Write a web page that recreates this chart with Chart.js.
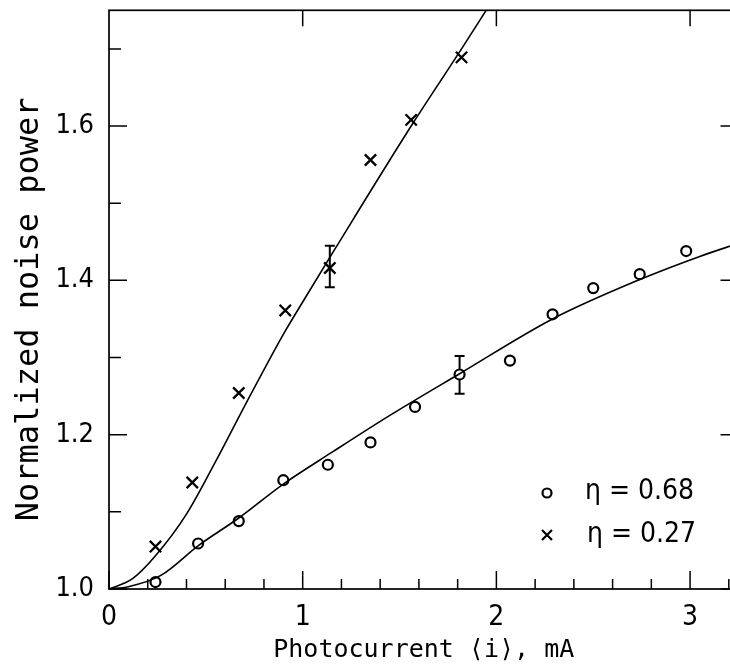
<!DOCTYPE html>
<html>
<head>
<meta charset="utf-8">
<script src="https://cdn.jsdelivr.net/npm/chart.js@4"></script>
<style>
html, body { margin: 0; padding: 0; background: #fff; overflow: hidden; }
#wrap { width: 750px; height: 670px; }
</style>
</head>
<body>
<div id="wrap"><canvas id="noiseChart" width="750" height="670"></canvas></div>
<script>
// measured points, eta = 0.68 (open circles)
const circX = [0.24, 0.46, 0.67, 0.90, 1.13, 1.35, 1.58, 1.81, 2.07, 2.29, 2.50, 2.74, 2.98];
const circY = [1.009, 1.059, 1.088, 1.141, 1.161, 1.190, 1.236, 1.278, 1.296, 1.356, 1.390, 1.408, 1.438];

// measured points, eta = 0.27 (crosses)
const crossX = [0.24, 0.43, 0.67, 0.91, 1.14, 1.35, 1.56, 1.82];
const crossY = [1.055, 1.138, 1.254, 1.361, 1.416, 1.556, 1.608, 1.689];

// theory curves
const fitLowX = [0, 0.10, 0.27, 0.46, 0.67, 0.90, 1.15, 1.45, 1.81, 2.29, 2.74, 3.05, 3.25];
const fitLowY = [1.000, 1.003, 1.018, 1.056, 1.092, 1.136, 1.177, 1.225, 1.279, 1.350, 1.401, 1.431, 1.448];
const fitHighX = [0, 0.12, 0.24, 0.40, 0.55, 0.70, 0.90, 1.00, 1.17, 1.56, 1.82, 1.96];
const fitHighY = [1.000, 1.013, 1.043, 1.097, 1.165, 1.237, 1.330, 1.372, 1.442, 1.600, 1.700, 1.755];

// error bars
const errX = [1.14, 1.81];
const errLow = [1.391, 1.253];
const errHigh = [1.445, 1.302];

// ticks
const xMajor = [0, 1, 2, 3];
const xMinor = [0.2, 0.4, 0.6, 0.8, 1.2, 1.4, 1.6, 1.8, 2.2, 2.4, 2.6, 2.8, 3.2];
const yMajor = [1.0, 1.2, 1.4, 1.6];
const yMinor = [1.1, 1.3, 1.5, 1.7];
const yLabels = ['1.0', '1.2', '1.4', '1.6'];

const legendText = ['\u03b7 = 0.68', '\u03b7 = 0.27'];

const narrow = "'Liberation Sans Narrow', 'DejaVu Sans Condensed', 'Liberation Sans', sans-serif";
const mono = "'DejaVu Sans Mono', 'Liberation Mono', monospace";

function pts(xs, ys) {
    return xs.map(function(v, i) { return {x: v, y: ys[i]}; });
}

// keep the plot box fixed: no extra room for edge labels
function noPad(s) {
    s.paddingTop = 0; s.paddingBottom = 0;
    s.paddingLeft = 0; s.paddingRight = 0;
}

const errorBars = {
    id: 'errorBars',
    beforeDatasetsDraw(chart) {
        const {ctx, scales: {x, y}} = chart;
        ctx.save();
        ctx.strokeStyle = '#000';
        ctx.lineWidth = 2;
        errX.forEach(function(v, i) {
            const px = x.getPixelForValue(v);
            const lo = y.getPixelForValue(errLow[i]);
            const hi = y.getPixelForValue(errHigh[i]);
            ctx.beginPath();
            ctx.moveTo(px, lo); ctx.lineTo(px, hi);
            ctx.moveTo(px - 5, lo); ctx.lineTo(px + 5, lo);
            ctx.moveTo(px - 5, hi); ctx.lineTo(px + 5, hi);
            ctx.stroke();
        });
        ctx.restore();
    }
};

// box with inward ticks, plus the legend inside the plot
const frame = {
    id: 'frame',
    afterDraw(chart) {
        const {ctx, chartArea: a, scales: {x, y}} = chart;
        ctx.save();
        ctx.strokeStyle = '#000';
        ctx.lineWidth = 1.7;
        ctx.strokeRect(a.left, a.top, a.right - a.left, a.bottom - a.top);

        ctx.lineWidth = 1.5;
        ctx.beginPath();
        xMajor.forEach(function(v) {
            const px = x.getPixelForValue(v);
            ctx.moveTo(px, a.bottom); ctx.lineTo(px, a.bottom - 18);
            if (v > 0) { ctx.moveTo(px, a.top); ctx.lineTo(px, a.top + 16); }
        });
        xMinor.forEach(function(v) {
            const px = x.getPixelForValue(v);
            ctx.moveTo(px, a.bottom); ctx.lineTo(px, a.bottom - 10);
        });
        yMajor.forEach(function(v) {
            const py = y.getPixelForValue(v);
            ctx.moveTo(a.left, py); ctx.lineTo(a.left + 18, py);
            ctx.moveTo(a.right, py); ctx.lineTo(a.right - 18, py);
        });
        yMinor.forEach(function(v) {
            const py = y.getPixelForValue(v);
            ctx.moveTo(a.left, py); ctx.lineTo(a.left + 12, py);
        });
        ctx.stroke();

        // legend
        ctx.lineWidth = 2.2;
        ctx.beginPath();
        ctx.arc(547, 493, 4.5, 0, Math.PI * 2);
        ctx.stroke();
        ctx.beginPath();
        ctx.moveTo(542, 530); ctx.lineTo(552, 540);
        ctx.moveTo(552, 530); ctx.lineTo(542, 540);
        ctx.stroke();
        ctx.fillStyle = '#000';
        ctx.font = '28px ' + narrow;
        ctx.textAlign = 'left';
        ctx.textBaseline = 'middle';
        ctx.fillText(legendText[0], 585, 492);
        ctx.fillText(legendText[1], 587, 535);
        ctx.restore();
    }
};

const ctx = document.getElementById('noiseChart').getContext('2d');
window.noiseChart = new Chart(ctx, {
    type: 'scatter',
    data: {
        datasets: [
            {
                label: 'fit 0.68',
                data: pts(fitLowX, fitLowY),
                showLine: true,
                borderColor: '#000',
                borderWidth: 1.6,
                pointRadius: 0,
                cubicInterpolationMode: 'monotone'
            },
            {
                label: 'fit 0.27',
                data: pts(fitHighX, fitHighY),
                showLine: true,
                borderColor: '#000',
                borderWidth: 1.6,
                pointRadius: 0,
                cubicInterpolationMode: 'monotone'
            },
            {
                label: legendText[0],
                data: pts(circX, circY),
                pointStyle: 'circle',
                pointRadius: 5,
                borderWidth: 2.2,
                borderColor: '#000',
                backgroundColor: '#fff'
            },
            {
                label: legendText[1],
                data: pts(crossX, crossY),
                pointStyle: 'crossRot',
                pointRadius: 8,
                borderWidth: 2.3,
                borderColor: '#000'
            }
        ]
    },
    options: {
        responsive: false,
        animation: false,
        layout: { padding: { left: 0, top: 9, right: 11.5, bottom: 0 } },
        scales: {
            x: {
                type: 'linear',
                min: 0,
                max: 3.25,
                afterFit: function(s) { s.height = 81; noPad(s); },
                afterBuildTicks: function(s) { s.ticks = xMajor.map(function(v) { return {value: v}; }); },
                grid: { display: false, drawTicks: false, tickLength: 0 },
                border: { display: false },
                ticks: {
                    color: '#000',
                    padding: 12,
                    maxRotation: 0,
                    font: { family: narrow, size: 28 },
                    callback: function(v) { return String(v); }
                },
                title: {
                    display: true,
                    text: 'Photocurrent \u27e8i\u27e9, mA',
                    color: '#000',
                    font: { family: mono, size: 25 },
                    padding: { top: 0, bottom: 5 }
                }
            },
            y: {
                type: 'linear',
                min: 1.0,
                max: 1.75,
                afterFit: function(s) { s.width = 109; noPad(s); },
                afterBuildTicks: function(s) { s.ticks = yMajor.map(function(v) { return {value: v}; }); },
                grid: { display: false, drawTicks: false, tickLength: 0 },
                border: { display: false },
                ticks: {
                    color: '#000',
                    padding: 15,
                    font: { family: narrow, size: 27 },
                    callback: function(v) { return yLabels[yMajor.indexOf(v)]; }
                },
                title: {
                    display: true,
                    // trailing space nudges the rotated label down a little, as in the original
                    text: 'Normalized noise power ',
                    color: '#000',
                    font: { family: mono, size: 32 },
                    padding: { top: 10, bottom: 0 }
                }
            }
        },
        plugins: {
            legend: { display: false },
            tooltip: { enabled: false }
        }
    },
    plugins: [errorBars, frame]
});
</script>
</body>
</html>
